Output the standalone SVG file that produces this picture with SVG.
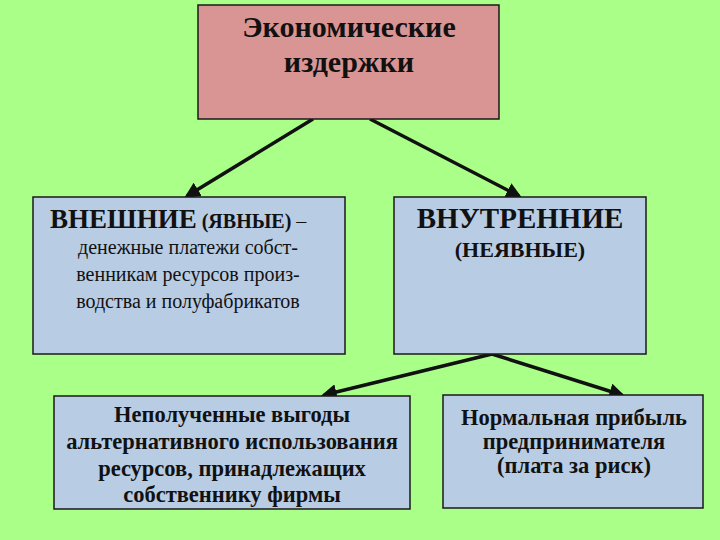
<svg xmlns="http://www.w3.org/2000/svg" width="720" height="540" viewBox="0 0 720 540">
<style>
.box{stroke:#1a1a1a;stroke-width:1.5}
.blue{fill:#b8cce4}
.pink{fill:#d99594}
text{font-family:"Liberation Serif","Times New Roman",serif;fill:#111;text-anchor:middle}
.b{font-weight:bold}
.con{stroke:#111;stroke-width:3.5;fill:none;marker-end:url(#ah)}
</style>
<defs>
<marker id="ah" viewBox="0 0 10 10" refX="8" refY="5" markerWidth="4.5" markerHeight="4.5" orient="auto" markerUnits="strokeWidth">
<path d="M0,0 L10,5 L0,10 z" fill="#111"/>
</marker>
</defs>
<rect width="720" height="540" fill="#aaff88"/>
<g id="connectors">
<line class="con" x1="313" y1="119" x2="187" y2="196"/>
<line class="con" x1="370" y1="119" x2="519" y2="196"/>
<line class="con" x1="492" y1="354" x2="324" y2="395"/>
<line class="con" x1="492" y1="354" x2="622" y2="395"/>
</g>
<g id="n-top">
<rect class="box pink" x="198" y="5" width="301" height="114"/>
<text class="b" x="349" y="37" font-size="30">Экономические</text>
<text class="b" x="349" y="72" font-size="30">издержки</text>
</g>
<g id="n-external">
<rect class="box blue" x="33" y="197" width="312" height="157"/>
<text x="193" y="228" text-anchor="middle"><tspan class="b" font-size="27" x="50" text-anchor="start">ВНЕШНИЕ</tspan><tspan class="b" font-size="20"> (ЯВНЫЕ)</tspan><tspan font-size="20"> –</tspan></text>
<text x="188" y="254" font-size="20">денежные платежи собст-</text>
<text x="188" y="281" font-size="20">венникам ресурсов произ-</text>
<text x="188" y="308" font-size="20">водства и полуфабрикатов</text>
</g>
<g id="n-internal">
<rect class="box blue" x="394" y="197" width="252" height="157"/>
<text class="b" x="520" y="228" font-size="29">ВНУТРЕННИЕ</text>
<text class="b" x="520" y="257" font-size="22">(НЕЯВНЫЕ)</text>
</g>
<g id="n-lost">
<rect class="box blue" x="54" y="396" width="356" height="113"/>
<text class="b" x="232" y="422" font-size="22.5">Неполученные выгоды</text>
<text class="b" x="232" y="449" font-size="22.5">альтернативного использования</text>
<text class="b" x="232" y="476" font-size="22.5">ресурсов, принадлежащих</text>
<text class="b" x="232" y="502" font-size="22.5">собственнику фирмы</text>
</g>
<g id="n-normal">
<rect class="box blue" x="443" y="395" width="260" height="113"/>
<text class="b" x="574" y="425" font-size="22.5">Нормальная прибыль</text>
<text class="b" x="574" y="449" font-size="22.5">предпринимателя</text>
<text class="b" x="574" y="473" font-size="22.5">(плата за риск)</text>
</g>
</svg>
